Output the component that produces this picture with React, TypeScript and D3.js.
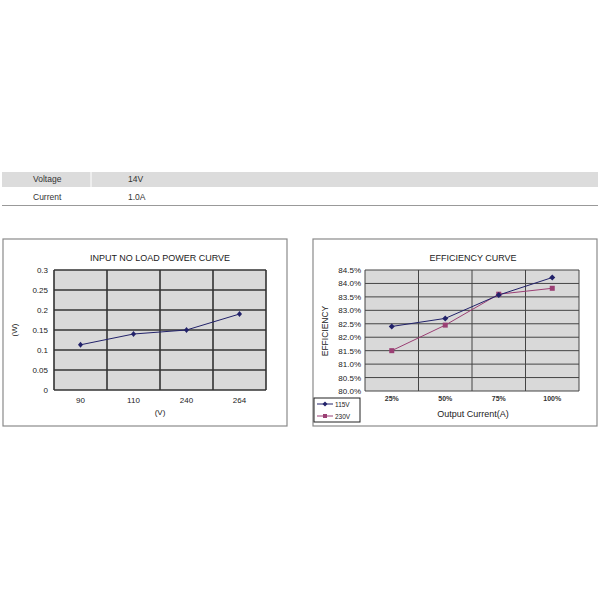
import React from 'react'
import * as d3 from 'd3'

// table rows
const tableLabels = ['Voltage', 'Current']
const tableValues = ['14V', '1.0A']

// input no-load power curve
const voltages = ['90', '110', '240', '264']
const powerW = [0.113, 0.14, 0.15, 0.19]
const powerTicks = [0, 0.05, 0.1, 0.15, 0.2, 0.25, 0.3]

// efficiency curve
const loads = ['25%', '50%', '75%', '100%']
const eff115 = [82.4, 82.7, 83.57, 84.22]
const eff230 = [81.5, 82.45, 83.6, 83.82]
const effTicks = [80.0, 80.5, 81.0, 81.5, 82.0, 82.5, 83.0, 83.5, 84.0, 84.5]
const seriesNames = ['115V', '230V']

const FONT = '"Liberation Sans", Arial, sans-serif'
const NAVY = '#22226a'
const PLUM = '#9b3f74'

const PowerChart: React.FC = () => {
    const x = d3.scaleBand().domain(voltages).range([54, 266])
    const y = d3.scaleLinear().domain([0, 0.3]).range([390, 270])
    const line = d3
        .line<number>()
        .x((_, i) => x(voltages[i])! + x.bandwidth() / 2)
        .y((d) => y(d))
    return (
        <g fontFamily={FONT}>
            <rect x={3} y={239} width={284} height={187} fill="#fff" stroke="#8a8a8a" strokeWidth={1.2} />
            <text x={160} y={261} textAnchor="middle" fontSize={9} fill="#222">
                INPUT NO LOAD POWER CURVE
            </text>
            <rect x={54} y={270} width={212} height={120} fill="#d9d9d9" />
            {powerTicks.map((t) => (
                <g key={t}>
                    <line x1={54} x2={266} y1={y(t)} y2={y(t)} stroke="#333" strokeWidth={1.6} />
                    <text x={48} y={y(t) + 3} textAnchor="end" fontSize={8} fill="#222">
                        {t}
                    </text>
                </g>
            ))}
            {voltages.map((v) => (
                <g key={v}>
                    <line x1={x(v)!} x2={x(v)!} y1={270} y2={390} stroke="#333" strokeWidth={1.6} />
                    <text x={x(v)! + x.bandwidth() / 2} y={403} textAnchor="middle" fontSize={8} fill="#222">
                        {v}
                    </text>
                </g>
            ))}
            <line x1={266} x2={266} y1={270} y2={390} stroke="#333" strokeWidth={1.6} />
            <text x={160} y={415} textAnchor="middle" fontSize={8} fill="#222">
                (V)
            </text>
            <text transform="translate(17,330) rotate(-90)" textAnchor="middle" fontSize={8} fill="#222">
                (W)
            </text>
            <path d={line(powerW)!} fill="none" stroke={NAVY} strokeWidth={1} />
            {powerW.map((p, i) => {
                const cx = x(voltages[i])! + x.bandwidth() / 2
                const cy = y(p)
                return <path key={i} d={`M${cx},${cy - 3}L${cx + 2.5},${cy}L${cx},${cy + 3}L${cx - 2.5},${cy}Z`} fill={NAVY} />
            })}
        </g>
    )
}

const EfficiencyChart: React.FC = () => {
    const x = d3.scaleBand().domain(loads).range([365, 579])
    const y = d3.scaleLinear().domain([80, 84.5]).range([391, 270])
    const cxOf = (i: number) => x(loads[i])! + x.bandwidth() / 2
    const line = d3
        .line<number>()
        .x((_, i) => cxOf(i))
        .y((d) => y(d))
    return (
        <g fontFamily={FONT}>
            <rect x={313} y={239} width={284} height={187} fill="#fff" stroke="#8a8a8a" strokeWidth={1.2} />
            <text x={473} y={261} textAnchor="middle" fontSize={9} fill="#222">
                EFFICIENCY CURVE
            </text>
            <rect x={365} y={270} width={214} height={121} fill="#d9d9d9" />
            {effTicks.map((t) => (
                <g key={t}>
                    <line x1={365} x2={579} y1={y(t)} y2={y(t)} stroke="#444" strokeWidth={1} />
                    <text x={361} y={y(t) + 3} textAnchor="end" fontSize={8} fill="#222">
                        {t.toFixed(1)}%
                    </text>
                </g>
            ))}
            {loads.map((l) => (
                <g key={l}>
                    <line x1={x(l)!} x2={x(l)!} y1={270} y2={391} stroke="#444" strokeWidth={1} />
                    <text x={x(l)! + x.bandwidth() / 2} y={401} textAnchor="middle" fontSize={7} fontWeight="bold" fill="#333">
                        {l}
                    </text>
                </g>
            ))}
            <line x1={579} x2={579} y1={270} y2={391} stroke="#444" strokeWidth={1} />
            <text x={473} y={417} textAnchor="middle" fontSize={9} fill="#222">
                Output Current(A)
            </text>
            <text transform="translate(328,331) rotate(-90)" textAnchor="middle" fontSize={8.5} fill="#222">
                EFFICIENCY
            </text>
            <path d={line(eff230)!} fill="none" stroke={PLUM} strokeWidth={1} />
            <path d={line(eff115)!} fill="none" stroke={NAVY} strokeWidth={1} />
            {eff230.map((v, i) => (
                <rect key={i} x={cxOf(i) - 2.5} y={y(v) - 2.5} width={5} height={5} fill={PLUM} />
            ))}
            {eff115.map((v, i) => {
                const cx = cxOf(i)
                const cy = y(v)
                return <path key={i} d={`M${cx},${cy - 3}L${cx + 3},${cy}L${cx},${cy + 3}L${cx - 3},${cy}Z`} fill={NAVY} />
            })}
            {/* legend */}
            <rect x={314} y={398} width={46} height={24} fill="#fff" stroke="#222" strokeWidth={1} />
            {seriesNames.map((name, i) => {
                const ly = 404 + i * 12
                const col = i === 0 ? NAVY : PLUM
                return (
                    <g key={name}>
                        <line x1={317} x2={333} y1={ly} y2={ly} stroke={col} strokeWidth={1} />
                        {i === 0 ? (
                            <path d={`M325,${ly - 2.5}L327.5,${ly}L325,${ly + 2.5}L322.5,${ly}Z`} fill={col} />
                        ) : (
                            <rect x={323} y={ly - 2} width={4} height={4} fill={col} />
                        )}
                        <text x={335} y={ly + 2.5} fontSize={6.5} fill="#222">
                            {name}
                        </text>
                    </g>
                )
            })}
        </g>
    )
}

const App: React.FC = () => {
    return (
        <svg
            width={600}
            height={600}
            style={{ position: 'absolute', left: 0, top: 0, background: '#fff' }}
        >
            {/* spec table */}
            <rect x={2} y={172} width={596} height={15} fill="#dcdcdc" />
            <line x1={91} x2={91} y1={172} y2={187} stroke="#fff" strokeWidth={1} />
            <line x1={2} x2={598} y1={205.5} y2={205.5} stroke="#999" strokeWidth={1} />
            {tableLabels.map((lab, i) => (
                <g key={lab} fontFamily={FONT} fontSize={8.5} fill="#333">
                    <text x={33} y={182 + i * 18}>
                        {lab}
                    </text>
                    <text x={128} y={182 + i * 18}>
                        {tableValues[i]}
                    </text>
                </g>
            ))}
            <PowerChart />
            <EfficiencyChart />
        </svg>
    )
}

export default App
